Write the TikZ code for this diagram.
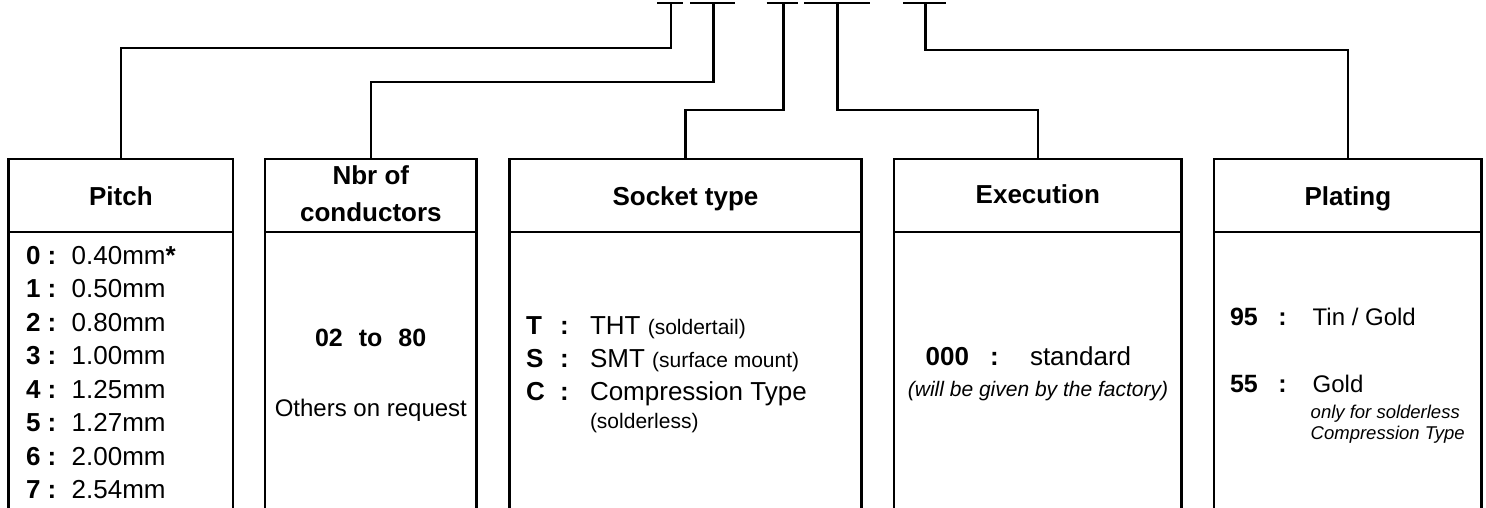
\documentclass[tikz,border=0pt]{standalone}
\usepackage{fontspec}
\setmainfont{Liberation Sans}
\begin{document}
\begin{tikzpicture}[x=1pt,y=-1pt,line width=2.6pt,
  hdr/.style={draw,rectangle,minimum height=73.3pt,inner sep=0pt,outer sep=0pt},
  htxt/.style={inner sep=0pt,outer sep=0pt,anchor=base,font=\fontsize{26}{30}\selectfont\bfseries},
  lt/.style={inner sep=0pt,outer sep=0pt,anchor=base west},
  ct/.style={inner sep=0pt,outer sep=0pt,anchor=base},
  bigb/.style={font=\fontsize{26}{30}\selectfont\bfseries},
  bigr/.style={font=\fontsize{26}{30}\selectfont},
  medr/.style={font=\fontsize{24}{28}\selectfont},
  medb/.style={font=\fontsize{25}{29}\selectfont\bfseries},
  smr/.style={font=\fontsize{21}{25}\selectfont},
  smi/.style={font=\fontsize{21}{25}\selectfont\itshape},
  tinyi/.style={font=\fontsize{18.5}{21}\selectfont\itshape}]
\useasboundingbox (0,0) rectangle (1486,508);

% header boxes
\node[hdr,minimum width=224.3pt] (pitchH) at (120.85,195.5) {};
\node[hdr,minimum width=211.7pt] (nbrH) at (370.85,195.5) {};
\node[hdr,minimum width=352.4pt] (sockH) at (685.5,195.5) {};
\node[hdr,minimum width=287.7pt] (execH) at (1037.85,195.5) {};
\node[hdr,minimum width=267.7pt] (platH) at (1347.85,195.5) {};

% open bodies
\foreach \b in {pitchH,nbrH,sockH,execH,platH}{
  \draw (\b.south west) -- ++(0,276);
  \draw (\b.south east) -- ++(0,276);
}

% top bars and stems
\coordinate (s1) at (671,3);
\coordinate (s2) at (713.3,3);
\coordinate (s3) at (783.3,3);
\coordinate (s4) at (837.7,3);
\coordinate (s5) at (925.7,3);
\draw (657.3,3) -- (683.3,3);
\draw (690,3) -- (735,3);
\draw (766.7,3) -- (798.3,3);
\draw (804.3,3) -- (870,3);
\draw (903.3,3) -- (945.7,3);

\draw (s1) -- ++(0,45) -| (pitchH.north);
\draw (s2) -- ++(0,79) -| (nbrH.north);
\draw (s3) -- ++(0,107) -| (sockH.north);
\draw (s4) -- ++(0,107) -| (execH.north);
\draw (s5) -- ++(0,47) -| (platH.north);

% headers
\node[htxt] (hp) at (120.85,205) {Pitch};
\node[htxt] (hn1) at (370.85,184) {Nbr of};
\node[htxt] (hn2) at (370.85,221) {conductors};
\node[htxt] (hs) at (685.5,205) {Socket type};
\node[htxt] (he) at (1037.85,204) {Execution};
\node[htxt] (hpl) at (1347.85,205) {Plating};

% pitch list
\foreach \d/\v [count=\i from 0] in {0/0.40mm\textbf{*},1/0.50mm,2/0.80mm,3/1.00mm,4/1.25mm,5/1.27mm,6/2.00mm,7/2.54mm}{
  \node[lt,bigb] (pd\i) at (26,264+33.5*\i) {\d\ :};
  \node[lt,bigr] (pv\i) at (71.7,264+33.5*\i) {\v};
}

% nbr of conductors
\node[ct,medb] (nr) at (370.7,346.7) {02\hspace{16pt}to\hspace{16pt}80};
\node[ct,medr] (no) at (370.85,416.7) {Others on request};

% socket type
\node[lt,bigb] (sT) at (526,334) {T};
\node[lt,bigb] (sTc) at (560,334) {:};
\node[lt,bigr] (sTv) at (590,334) {THT {\fontsize{21}{25}\selectfont(soldertail)}};
\node[lt,bigb] (sS) at (526,367) {S};
\node[lt,bigb] (sSc) at (560,367) {:};
\node[lt,bigr] (sSv) at (590,367) {SMT {\fontsize{21}{25}\selectfont(surface mount)}};
\node[lt,bigb] (sC) at (526,400.5) {C};
\node[lt,bigb] (sCc) at (560,400.5) {:};
\node[lt,bigr] (sCv) at (590,400.5) {Compression Type};
\node[lt,smr] (sCv2) at (590,428.3) {(solderless)};

% execution
\node[lt,bigb] (e0) at (925.7,365) {000};
\node[lt,bigb] (ec) at (990,365) {:};
\node[lt,bigr] (ev) at (1030,365) {standard};
\node[ct,smi] (ei) at (1038,396.7) {(will be given by the factory)};

% plating
\node[lt,medb] (p95) at (1230,325.7) {95};
\node[lt,medb] (p95c) at (1278.3,325.7) {:};
\node[lt,medr] (p95v) at (1312.7,325.7) {Tin / Gold};
\node[lt,medb] (p55) at (1230,392.3) {55};
\node[lt,medb] (p55c) at (1278.3,392.3) {:};
\node[lt,medr] (p55v) at (1312.7,392.3) {Gold};
\node[lt,tinyi] (pi1) at (1310.7,418.3) {only for solderless};
\node[lt,tinyi] (pi2) at (1310.7,439.3) {Compression Type};
\end{tikzpicture}
\end{document}
